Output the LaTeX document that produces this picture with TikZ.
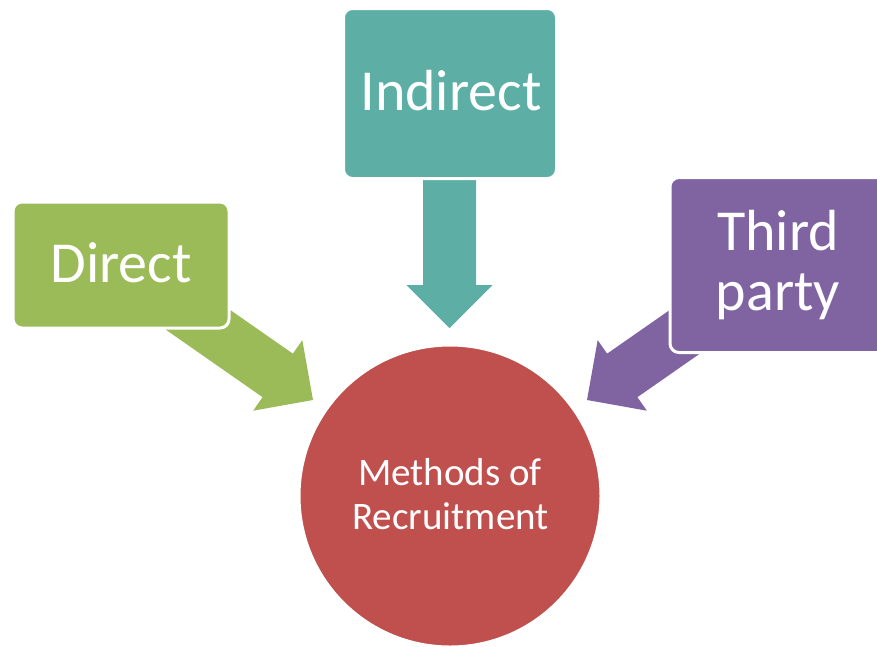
\documentclass[tikz,border=0pt]{standalone}
\usepackage{fontspec}
\setmainfont{Carlito}
\usetikzlibrary{calc}
\definecolor{cgreen}{HTML}{9BBB59}
\definecolor{cteal}{HTML}{5DAFA5}
\definecolor{cpurple}{HTML}{8064A2}
\definecolor{cred}{HTML}{C0504D}
\tikzset{
  box/.style={rectangle, rounded corners=9pt, draw=white, line width=3pt, inner sep=0pt, outer sep=0pt},
  biglbl/.style={text=white, inner sep=0pt, font=\fontsize{58}{60}\selectfont},
  smalllbl/.style={text=white, inner sep=0pt, font=\fontsize{39}{44}\selectfont}
}
% block arrow from #1 (start coordinate) to #2 (tip coordinate), colour #3
\newcommand{\myblockarrow}[3]{%
  \coordinate (hb) at ($(#2)!43pt!(#1)$);
  \fill[#3] (#2) -- ($(hb)!43pt!90:(#2)$) -- ($(hb)!26.5pt!90:(#2)$)
    -- ($(#1)!26.5pt!90:(#2)$) -- ($(#1)!26.5pt!-90:(#2)$)
    -- ($(hb)!26.5pt!-90:(#2)$) -- ($(hb)!43pt!-90:(#2)$) -- cycle;
}
\begin{document}
\begin{tikzpicture}[x=1pt,y=-1pt]
\useasboundingbox (0,0) rectangle (877,646);
\clip (0,0) rectangle (877,646);
% arrow end points
\coordinate (gs) at (171,301);
\coordinate (gt) at (313,400);
\coordinate (ts) at (449.5,170);
\coordinate (tt) at (449.5,328);
\coordinate (ps) at (729,301);
\coordinate (pt) at (587,400);
\myblockarrow{gs}{gt}{cgreen}
\myblockarrow{ts}{tt}{cteal}
\myblockarrow{ps}{pt}{cpurple}
% boxes
\node[box, fill=cgreen, minimum width=216pt, minimum height=126pt] (direct) at (121,265) {};
\node[box, fill=cteal, minimum width=213pt, minimum height=170pt] (indirect) at (450,93.5) {};
\node[box, fill=cpurple, minimum width=216pt, minimum height=175pt] (third) at (778,265) {};
\node[circle, draw=white, line width=3pt, fill=cred, minimum size=302pt, inner sep=0pt] (methods) at (450,496) {};
% labels
\node[biglbl, anchor=base] (ldirect) at (121,282) {Direct};
\node[biglbl, anchor=base] (lindirect) at (451,110) {Indirect};
\node[biglbl, anchor=base] (lthird) at (778,250) {Third};
\node[biglbl, anchor=base] (lparty) at (778,310) {party};
\node[smalllbl, anchor=base] (lmeth) at (450,485) {Methods of};
\node[smalllbl, anchor=base] (lrec) at (450.5,529) {Recruitment};
\end{tikzpicture}
\end{document}
